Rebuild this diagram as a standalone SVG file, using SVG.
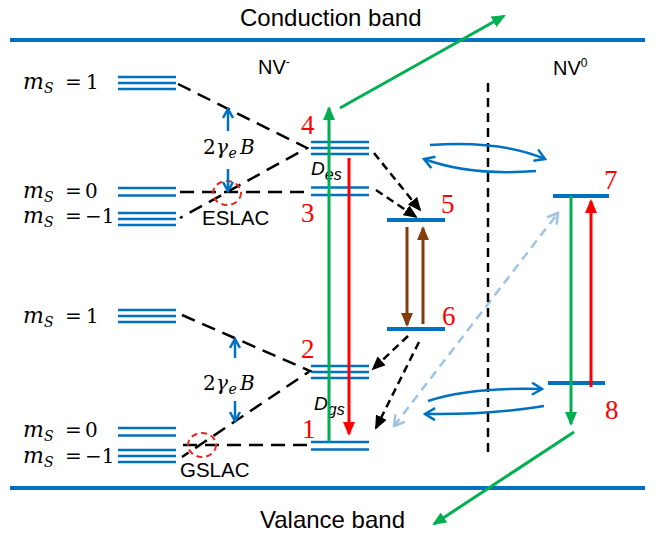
<svg xmlns="http://www.w3.org/2000/svg" width="656" height="534" viewBox="0 0 656 534">
<defs>
<style>
.band{stroke:#0070C0;stroke-width:4;}
.lv{stroke:#0070C0;stroke-width:2.5;}
.lvs{stroke:#0070C0;stroke-width:4;}
.dash{stroke:#000;stroke-width:2.5;stroke-dasharray:14 8;fill:none;}
.dk{stroke:#000;stroke-width:2.5;stroke-dasharray:8 5;fill:none;}
.sans{font-family:"Liberation Sans",Arial,sans-serif;fill:#000;}
.math{font-family:"DejaVu Serif","Liberation Serif",serif;font-size:20px;fill:#000;}
.mi{font-style:italic;font-size:22px;}
.sub{font-style:italic;font-size:14px;}
.num{font-family:"Liberation Serif","Times New Roman",serif;font-size:27px;fill:#FF0000;}
.lac{fill:none;stroke:#E8261C;stroke-width:2;stroke-dasharray:6 4;}
.g{stroke:#00B050;stroke-width:3;fill:none;}
.r{stroke:#FF0000;stroke-width:3;fill:none;}
.b{stroke:#843C0C;stroke-width:3;fill:none;}
.bl{stroke:#0070C0;stroke-width:2.5;fill:none;}
.lb{stroke:#9DC3E6;stroke-width:2.5;stroke-dasharray:9 6;fill:none;}
</style>
<marker id="hg" markerUnits="userSpaceOnUse" markerWidth="14" markerHeight="12" refX="12" refY="6" orient="auto"><path d="M0,0 L14,6 L0,12 z" fill="#00B050"/></marker>
<marker id="hr" markerUnits="userSpaceOnUse" markerWidth="14" markerHeight="12" refX="12" refY="6" orient="auto"><path d="M0,0 L14,6 L0,12 z" fill="#FF0000"/></marker>
<marker id="hb" markerUnits="userSpaceOnUse" markerWidth="14" markerHeight="12" refX="12" refY="6" orient="auto"><path d="M0,0 L14,6 L0,12 z" fill="#843C0C"/></marker>
<marker id="hk" markerUnits="userSpaceOnUse" markerWidth="14" markerHeight="12" refX="12" refY="6" orient="auto"><path d="M0,0 L14,6 L0,12 z" fill="#000"/></marker>
<marker id="hbo" markerUnits="userSpaceOnUse" markerWidth="14" markerHeight="14" refX="12" refY="7" orient="auto"><path d="M2,1 L12,7 L2,13" fill="none" stroke="#0070C0" stroke-width="2.5"/></marker>
<marker id="hbs" markerUnits="userSpaceOnUse" markerWidth="12" markerHeight="12" refX="10" refY="6" orient="auto"><path d="M1,1 L10,6 L1,11" fill="none" stroke="#0070C0" stroke-width="2.5"/></marker>
<marker id="hlo" markerUnits="userSpaceOnUse" markerWidth="14" markerHeight="14" refX="12" refY="7" orient="auto-start-reverse"><path d="M2,1 L12,7 L2,13" fill="none" stroke="#9DC3E6" stroke-width="2.5"/></marker>
</defs>
<rect width="656" height="534" fill="#fff"/>

<g id="bands">
<line class="band" x1="10" y1="40" x2="645" y2="40"/>
<line class="band" x1="10" y1="488" x2="645" y2="488"/>
<text class="sans" x="240" y="26" font-size="24">Conduction band</text>
<text class="sans" x="260" y="528" font-size="24">Valance band</text>
</g>

<g id="labels">
<text class="sans" x="258" y="74" font-size="20">NV<tspan font-size="12" dy="-8">-</tspan></text>
<text class="sans" x="553" y="75" font-size="20">NV<tspan font-size="12" dy="-8">0</tspan></text>
<text class="sans" x="202" y="225" font-size="20.5">ESLAC</text>
<text class="sans" x="180" y="477" font-size="20.5">GSLAC</text>
</g>

<g id="ms-labels" class="math">
<text x="23" y="89"><tspan class="mi">m</tspan><tspan class="sub" dy="4">S</tspan><tspan x="65" dy="-4">=</tspan><tspan x="86">1</tspan></text>
<text x="23" y="198"><tspan class="mi">m</tspan><tspan class="sub" dy="4">S</tspan><tspan x="65" dy="-4">=</tspan><tspan x="85">0</tspan></text>
<text x="23" y="223"><tspan class="mi">m</tspan><tspan class="sub" dy="4">S</tspan><tspan x="65" dy="-4">=</tspan><tspan x="85">−1</tspan></text>
<text x="23" y="323"><tspan class="mi">m</tspan><tspan class="sub" dy="4">S</tspan><tspan x="65" dy="-4">=</tspan><tspan x="86">1</tspan></text>
<text x="23" y="437"><tspan class="mi">m</tspan><tspan class="sub" dy="4">S</tspan><tspan x="65" dy="-4">=</tspan><tspan x="85">0</tspan></text>
<text x="23" y="463"><tspan class="mi">m</tspan><tspan class="sub" dy="4">S</tspan><tspan x="65" dy="-4">=</tspan><tspan x="85">−1</tspan></text>
</g>

<g id="left-levels">
<line class="lv" x1="118" y1="77" x2="176" y2="77"/>
<line class="lv" x1="118" y1="83" x2="176" y2="83"/>
<line class="lv" x1="118" y1="89" x2="176" y2="89"/>
<line class="lv" x1="118" y1="188" x2="176" y2="188"/>
<line class="lv" x1="118" y1="195.5" x2="176" y2="195.5"/>
<line class="lv" x1="118" y1="213" x2="176" y2="213"/>
<line class="lv" x1="118" y1="219" x2="176" y2="219"/>
<line class="lv" x1="118" y1="225" x2="176" y2="225"/>
<line class="lv" x1="118" y1="310" x2="176" y2="310"/>
<line class="lv" x1="118" y1="316" x2="176" y2="316"/>
<line class="lv" x1="118" y1="322" x2="176" y2="322"/>
<line class="lv" x1="118" y1="428" x2="176" y2="428"/>
<line class="lv" x1="118" y1="435.5" x2="176" y2="435.5"/>
<line class="lv" x1="118" y1="450" x2="176" y2="450"/>
<line class="lv" x1="118" y1="456" x2="176" y2="456"/>
<line class="lv" x1="118" y1="462" x2="176" y2="462"/>
</g>

<g id="level4"><line class="lv" x1="311" y1="142" x2="369" y2="142"/><line class="lv" x1="311" y1="148" x2="369" y2="148"/><line class="lv" x1="311" y1="154" x2="369" y2="154"/><text class="num" x="301" y="134">4</text></g>
<g id="level3"><line class="lv" x1="311" y1="187.5" x2="369" y2="187.5"/><line class="lv" x1="311" y1="195" x2="369" y2="195"/><text class="num" x="301" y="222">3</text></g>
<g id="level2"><line class="lv" x1="311" y1="366" x2="369" y2="366"/><line class="lv" x1="311" y1="372" x2="369" y2="372"/><line class="lv" x1="311" y1="378" x2="369" y2="378"/><text class="num" x="301" y="358">2</text></g>
<g id="level1"><line class="lv" x1="311" y1="442" x2="369" y2="442"/><line class="lv" x1="311" y1="449.5" x2="369" y2="449.5"/><text class="num" x="302" y="438">1</text></g>
<g id="level5"><line class="lvs" x1="387" y1="220" x2="445" y2="220"/><text class="num" x="441" y="213">5</text></g>
<g id="level6"><line class="lvs" x1="387" y1="329" x2="445" y2="329"/><text class="num" x="442" y="325">6</text></g>
<g id="level7"><line class="lvs" x1="553" y1="196" x2="609" y2="196"/><text class="num" x="604" y="189">7</text></g>
<g id="level8"><line class="lvs" x1="548" y1="383" x2="605" y2="383"/><text class="num" x="605" y="419">8</text></g>

<g id="zfs-labels" class="sans" font-style="italic">
<text x="311" y="175" font-size="19">D<tspan font-size="16" dy="5">es</tspan></text>
<text x="314" y="410" font-size="19">D<tspan font-size="16" dy="5">gs</tspan></text>
</g>

<g id="zeeman" class="math">
<text x="203" y="154">2<tspan font-style="italic" x="216">γ</tspan><tspan class="sub" x="228.5" dy="4">e</tspan><tspan font-style="italic" x="240" dy="-4">B</tspan></text>
<text x="203" y="390">2<tspan font-style="italic" x="216">γ</tspan><tspan class="sub" x="228.5" dy="4">e</tspan><tspan font-style="italic" x="240" dy="-4">B</tspan></text>
</g>

<g id="connectors">
<path class="dash" d="M178,84 L307,148 L180,218"/>
<line class="dash" x1="180" y1="192" x2="310" y2="192"/>
<path class="dash" d="M182,315 L310,371 L182,457"/>
<line class="dash" x1="183" y1="445" x2="310" y2="445"/>
<ellipse class="lac" cx="227" cy="193" rx="14" ry="12"/>
<ellipse class="lac" cx="202" cy="445" rx="14" ry="12"/>
<line class="bl" x1="228" y1="131" x2="228" y2="109" marker-end="url(#hbs)"/>
<line class="bl" x1="228" y1="169" x2="228" y2="191" marker-end="url(#hbs)"/>
<line class="bl" x1="235" y1="358" x2="235" y2="339" marker-end="url(#hbs)"/>
<line class="bl" x1="235" y1="401" x2="235" y2="421" marker-end="url(#hbs)"/>

<line class="g" x1="329" y1="442" x2="329" y2="108" marker-end="url(#hg)"/>
<line class="r" x1="349" y1="158" x2="349" y2="434" marker-end="url(#hr)"/>
<line class="g" x1="340" y1="108" x2="504" y2="16" marker-end="url(#hg)"/>

<line class="dk" x1="374" y1="153" x2="420" y2="210" marker-end="url(#hk)"/>
<line class="dk" x1="376" y1="190" x2="416" y2="217" marker-end="url(#hk)"/>
<line class="dk" x1="408" y1="336" x2="373" y2="369" marker-end="url(#hk)"/>
<line class="dk" x1="419" y1="342" x2="376" y2="428" marker-end="url(#hk)"/>

<line class="b" x1="407" y1="227" x2="407" y2="325" marker-end="url(#hb)"/>
<line class="b" x1="423" y1="324" x2="423" y2="228" marker-end="url(#hb)"/>

<line class="g" x1="571" y1="196" x2="571" y2="424" marker-end="url(#hg)"/>
<line class="r" x1="591" y1="387" x2="591" y2="201" marker-end="url(#hr)"/>
<line class="g" x1="574" y1="432" x2="434" y2="524" marker-end="url(#hg)"/>

<line class="lb" x1="394" y1="426" x2="558" y2="213" marker-start="url(#hlo)" marker-end="url(#hlo)"/>

<line x1="488" y1="83" x2="488" y2="452" stroke="#000" stroke-width="2.5" stroke-dasharray="9 6"/>

<path class="bl" d="M430,145 Q500,140 545,159" marker-end="url(#hbo)"/>
<path class="bl" d="M536,171 Q470,176 424,159" marker-end="url(#hbo)"/>
<path class="bl" d="M428,401 Q470,387 542,389" marker-end="url(#hbo)"/>
<path class="bl" d="M544,406 Q490,415 425,414" marker-end="url(#hbo)"/>
</g>
</svg>
